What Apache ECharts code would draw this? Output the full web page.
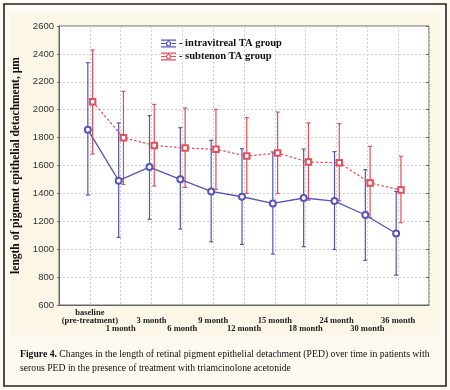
<!DOCTYPE html>
<html><head><meta charset="utf-8">
<script src="https://cdn.jsdelivr.net/npm/echarts@6/dist/echarts.min.js"></script>
<style>html,body{margin:0;padding:0;background:#fdfaf1;}#c{width:450px;height:390px;}</style>
</head><body><div id="c"></div>
<script>
var categories = ['baseline\n(pre-treatment)', '1 month', '3 month', '6 month', '9 month', '12 month', '15 month', '18 month', '24 month', '30 month', '36 month'];
var yTicks = [600, 800, 1000, 1200, 1400, 1600, 1800, 2000, 2200, 2400, 2600];
var intraMean = [1857, 1491, 1589, 1501, 1414, 1376, 1328, 1367, 1345, 1245, 1113];
var intraHigh = [2337, 1905, 1957, 1871, 1780, 1720, 1697, 1718, 1699, 1570, 1414];
var intraLow  = [1388, 1085, 1214, 1144, 1053, 1034, 965, 1018, 998, 920, 814];
var subMean = [2057, 1799, 1744, 1725, 1716, 1668, 1689, 1625, 1620, 1474, 1424];
var subHigh = [2428, 2132, 2038, 2012, 2002, 1943, 1983, 1905, 1900, 1737, 1666];
var subLow  = [1682, 1465, 1453, 1443, 1429, 1400, 1400, 1352, 1347, 1226, 1190];

var BLUE = '#5656b8', RED = '#e0505a';
var SERIF = '"Liberation Serif","Times New Roman",serif';
var SANS = '"Liberation Sans",Arial,sans-serif';
var offB = -0.065, offR = 0.09;

function pts(mean, off) { return mean.map(function (v, i) { return [i + 1 + off, v]; }); }
function bars(lo, hi, off) { return lo.map(function (v, i) { return [i + 1 + off, v, hi[i]]; }); }
function errRender(color) {
  return function (params, api) {
    var x = api.value(0);
    var p1 = api.coord([x, api.value(1)]);
    var p2 = api.coord([x, api.value(2)]);
    var w = 2;
    var st = { stroke: color, lineWidth: 1.2 };
    return { type: 'group', children: [
      { type: 'line', shape: { x1: p1[0], y1: p1[1], x2: p2[0], y2: p2[1] }, style: st },
      { type: 'line', shape: { x1: p1[0] - w, y1: p1[1], x2: p1[0] + w, y2: p1[1] }, style: st },
      { type: 'line', shape: { x1: p2[0] - w, y1: p2[1], x2: p2[0] + w, y2: p2[1] }, style: st }
    ]};
  };
}
var iconPath = 'path://M0,0H20V1.4H0Z M0,9H20V10.4H0Z M0,4.5H6.2V5.9H0Z M13.8,4.5H20V5.9H13.8Z M9.3,1.4H10.7V2.2H9.3Z M9.3,8.2H10.7V9H9.3Z M6.5,5.2A3.5,3.5 0 1,0 13.5,5.2A3.5,3.5 0 1,0 6.5,5.2Z M8,5.2A2,2 0 1,1 12,5.2A2,2 0 1,1 8,5.2Z';

var chart = echarts.init(document.getElementById('c'));
chart.setOption({
  animation: false,
  backgroundColor: '#fdfaf1',
  graphic: [
    { type: 'rect', shape: { x: 4, y: 4, width: 442, height: 382 }, style: { fill: '#fdfaf1', stroke: '#222', lineWidth: 1.6 }, z: -10 },
    { type: 'rect', shape: { x: 10, y: 14, width: 430, height: 321 }, style: { fill: '#fcf6e6', stroke: null }, z: -9 },
    { type: 'text', left: 20, top: 347, z: 10, style: {
      text: '{b|Figure 4.} Changes in the length of retinal pigment epithelial detachment (PED) over time in patients with\nserous PED in the presence of treatment with triamcinolone acetonide',
      font: '9.7px ' + SERIF, fill: '#111', lineHeight: 14,
      rich: { b: { fontWeight: 'bold', fontFamily: SERIF, fontSize: 9.7, fill: '#111' } }
    } }
  ],
  grid: { left: 59, top: 26, width: 370, height: 279, show: true, backgroundColor: '#ffffff', borderColor: '#666', borderWidth: 1 },
  legend: {
    orient: 'vertical', left: 156, top: 33, itemGap: 2, itemWidth: 15, itemHeight: 9,
    icon: iconPath,
    data: ['intravitreal TA group', 'subtenon TA group'],
    formatter: function (n) { return '- ' + n; },
    textStyle: { fontFamily: SERIF, fontWeight: 'bold', fontSize: 10.5, color: '#111', padding: [0, 0, 0, -2] }
  },
  xAxis: {
    type: 'value', min: 0, max: 12, interval: 1,
    axisLine: { show: true, lineStyle: { color: '#666' } },
    axisTick: { show: false },
    splitLine: { show: true, lineStyle: { color: '#cfcfcf', type: [2, 2] } },
    axisLabel: {
      margin: 4, fontFamily: SERIF, fontWeight: 'bold', fontSize: 8.5, color: '#222', lineHeight: 8,
      showMinLabel: true, showMaxLabel: true,
      formatter: function (v) {
        var i = Math.round(v) - 1;
        if (i < 0 || i >= categories.length) return '';
        if (i === 0) return categories[0];
        return (i % 2 === 0 ? '\n' : '\n\n') + categories[i];
      }
    }
  },
  yAxis: [{
    type: 'value', min: 600, max: 2600, interval: 200,
    name: 'length of pigment epithelial detachment, µm', nameLocation: 'middle', nameGap: 30,
    nameTextStyle: { fontFamily: SERIF, fontWeight: 'bold', fontSize: 11.5, color: '#111' },
    axisLine: { show: true, lineStyle: { color: '#666' } },
    axisTick: { show: true, length: 2, lineStyle: { color: '#666' } },
    splitLine: { show: true, lineStyle: { color: '#cfcfcf', type: [2, 2] } },
    axisLabel: { fontFamily: SANS, fontSize: 9.5, color: '#333', margin: 5,
      formatter: function (v) { return yTicks.indexOf(v) >= 0 ? String(v) : ''; } }
  }, {
    type: 'value', min: 600, max: 2600, interval: 200, position: 'right',
    axisLine: { show: false }, axisLabel: { show: false }, splitLine: { show: false },
    axisTick: { show: true, inside: true, length: 3, lineStyle: { color: '#666' } }
  }],
  series: [
    { type: 'custom', name: 'intraErr', renderItem: errRender(BLUE), data: bars(intraLow, intraHigh, offB), encode: { x: 0, y: [1, 2] }, z: 2 },
    { type: 'custom', name: 'subErr', renderItem: errRender(RED), data: bars(subLow, subHigh, offR), encode: { x: 0, y: [1, 2] }, z: 2 },
    { type: 'line', name: 'intravitreal TA group', data: pts(intraMean, offB), symbol: 'emptyCircle', symbolSize: 6,
      itemStyle: { color: BLUE, borderWidth: 1.2 }, lineStyle: { color: BLUE, width: 1.3 }, z: 3 },
    { type: 'line', name: 'subtenon TA group', data: pts(subMean, offR), symbol: 'emptyRect', symbolSize: 5.5,
      itemStyle: { color: RED, borderWidth: 1.2 }, lineStyle: { color: RED, width: 1.2, type: [2.5, 2] }, z: 3 }
  ]
});
</script></body></html>
